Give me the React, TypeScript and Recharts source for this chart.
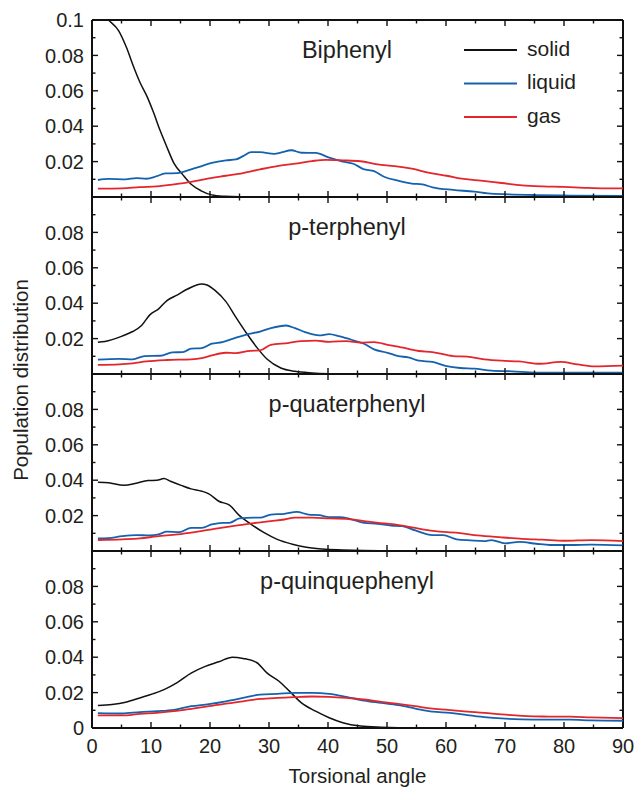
import React from 'react';
import { LineChart, Line, XAxis, YAxis, ReferenceLine, Legend } from 'recharts';

type Pt = [number, number];

// ---------- data ----------
const xTicks = [0, 5, 10, 15, 20, 25, 30, 35, 40, 45, 50, 55, 60, 65, 70, 75, 80, 85, 90];
const yTicks = [0, 0.01, 0.02, 0.03, 0.04, 0.05, 0.06, 0.07, 0.08, 0.09, 0.1];
const yLabelTicks: number[][] = [
  [0.02, 0.04, 0.06, 0.08, 0.1],
  [0.02, 0.04, 0.06, 0.08],
  [0.02, 0.04, 0.06, 0.08],
  [0, 0.02, 0.04, 0.06, 0.08],
];
const panelTitles = ['Biphenyl', 'p-terphenyl', 'p-quaterphenyl', 'p-quinquephenyl'];
const seriesNames = ['solid', 'liquid', 'gas'];
const seriesColors = ['#111111', '#1462ae', '#e3262c'];
const xAxisTitle = 'Torsional angle';
const yAxisTitle = 'Population distribution';

const biphenylSolid: Pt[] = [[1,0.107],[2.8,0.1],[4.5,0.094],[5.9,0.084],[7,0.074],[8.1,0.065],[9.3,0.057],[10.4,0.048],[11.5,0.038],[12.6,0.029],[13.9,0.019],[15.4,0.0125],[16.8,0.0072],[18.5,0.0035],[20.3,0.0012],[22.5,0.0004],[25,0.0001],[30,0],[45,0],[60,0],[75,0],[90,0]];
const biphenylLiquid: Pt[] = [[1,0.0096],[2.8,0.0102],[5.7,0.01],[7.5,0.0107],[9.2,0.0103],[11,0.0118],[12.4,0.0133],[14.5,0.0135],[16.8,0.0156],[18.6,0.0175],[20.3,0.0193],[22.7,0.0207],[24.4,0.0212],[25.6,0.0231],[27,0.0253],[28.5,0.0253],[30.9,0.0244],[32,0.0251],[33.8,0.0264],[35.5,0.025],[37.9,0.0249],[40.2,0.0222],[42.5,0.02],[44.3,0.0188],[46,0.0158],[47.8,0.0146],[49.6,0.0113],[51.9,0.0092],[54.2,0.0076],[56,0.0071],[57.7,0.0055],[61.2,0.004],[64.8,0.003],[67.1,0.002],[70.6,0.0015],[75.3,0.0011],[81.1,0.0008],[90,0.0006]];
const biphenylGas: Pt[] = [[1,0.0047],[5.1,0.0049],[8.1,0.0056],[11,0.006],[13.9,0.0071],[16.8,0.0085],[19.8,0.0105],[22.7,0.012],[25.6,0.0135],[28.5,0.0156],[31.4,0.0175],[34.4,0.0188],[37.3,0.0203],[39.6,0.021],[42.5,0.0207],[45.5,0.0202],[48.4,0.0184],[51.3,0.0175],[54.2,0.016],[57.2,0.0136],[60.1,0.012],[63,0.0102],[65.9,0.0092],[69.4,0.0079],[72.9,0.0066],[76.4,0.006],[80,0.0057],[83.5,0.0052],[87,0.0049],[90,0.0049]];

const terphenylSolid: Pt[] = [[1,0.018],[2.2,0.0184],[5.1,0.0214],[6.9,0.024],[8.4,0.0274],[9.8,0.0334],[11.3,0.0368],[12.7,0.0415],[14.5,0.0447],[16.2,0.048],[18.6,0.0509],[19.5,0.0503],[20.9,0.0471],[22.7,0.0409],[24.4,0.032],[26.2,0.023],[27.9,0.0152],[29.7,0.0083],[32,0.0034],[34.4,0.0015],[37.3,0.0006],[40.2,0.0002],[45,0],[60,0],[75,0],[90,0]];
const terphenylLiquid: Pt[] = [[1,0.0081],[4.6,0.0086],[6.9,0.0083],[8.9,0.0101],[11.6,0.0103],[13.6,0.0122],[15.4,0.0124],[16.8,0.0143],[18.6,0.0146],[20.3,0.0171],[22.1,0.018],[23.8,0.0199],[26.2,0.0223],[28.5,0.024],[30.3,0.0259],[32.9,0.0274],[34.4,0.0259],[36.1,0.0237],[38.5,0.0218],[40.2,0.0225],[42,0.0212],[44.3,0.019],[46.1,0.0171],[47.8,0.0139],[50.1,0.012],[51.9,0.0101],[53.6,0.0094],[55.4,0.0075],[57.7,0.0068],[60.1,0.0045],[62.4,0.0034],[64.8,0.003],[67.7,0.0019],[71.2,0.0015],[75.3,0.0008],[81.1,0.0008],[90,0.0008]];
const terphenylGas: Pt[] = [[1,0.0051],[4.6,0.0054],[6.9,0.006],[9.2,0.0071],[12.7,0.0079],[16.8,0.0083],[18.6,0.009],[20.3,0.0105],[22.7,0.012],[24.4,0.0118],[26.8,0.0131],[28.5,0.0133],[30.3,0.0165],[33.2,0.0175],[35.5,0.0186],[37.9,0.0188],[40.2,0.0182],[43.1,0.0186],[45.5,0.0177],[47.8,0.018],[50.1,0.0165],[53.1,0.0146],[55.4,0.013],[57.7,0.0124],[61.2,0.0101],[63.6,0.0098],[66.5,0.0083],[69.4,0.0075],[72.4,0.0071],[75.9,0.0058],[79.4,0.0068],[82.3,0.0054],[85.2,0.0043],[90,0.0047]];

const quaterphenylSolid: Pt[] = [[1,0.0388],[2.8,0.0385],[5.4,0.0371],[7.5,0.0383],[9.5,0.0398],[11,0.04],[12.2,0.0409],[13.3,0.0394],[15.1,0.0371],[16.8,0.0351],[18.6,0.0338],[19.8,0.0323],[21.5,0.0281],[23.3,0.0259],[25,0.02],[26.8,0.0155],[29.1,0.0105],[31.4,0.0066],[33.8,0.004],[36.1,0.0022],[39,0.0011],[42.5,0.0006],[46,0.0003],[50,0.0001],[55,0],[70,0],[90,0]];
const quaterphenylLiquid: Pt[] = [[1,0.0071],[2.8,0.0073],[5.1,0.0084],[7.5,0.009],[9.8,0.0088],[11.3,0.0094],[12.7,0.0109],[14.8,0.0107],[16.8,0.0131],[18.6,0.0131],[20.3,0.015],[22.1,0.0159],[23.3,0.0159],[25,0.0184],[27.4,0.0188],[28.5,0.0188],[30.3,0.0206],[32.6,0.021],[34.7,0.0221],[36.7,0.0206],[38.5,0.0203],[40.2,0.0191],[42,0.0191],[43.7,0.0182],[46.1,0.0159],[48.4,0.0154],[50.7,0.0144],[52.5,0.0141],[54.8,0.0116],[57.7,0.009],[59.5,0.009],[61.8,0.0066],[64.2,0.006],[66.5,0.0056],[67.7,0.0062],[70,0.0043],[72.4,0.0051],[75.3,0.0041],[77.6,0.0034],[81.1,0.0034],[84.6,0.0036],[90,0.0032]];
const quaterphenylGas: Pt[] = [[1,0.0062],[5.1,0.0066],[8.1,0.0071],[11,0.0083],[14.5,0.0094],[17.4,0.0107],[20.3,0.0122],[22.7,0.0135],[25,0.0146],[27.4,0.0158],[30.3,0.0169],[32.6,0.0178],[34.4,0.0188],[37.3,0.0188],[40.2,0.0184],[43.1,0.0182],[46.1,0.0169],[49.6,0.0156],[53.1,0.0141],[56,0.0122],[58.9,0.0109],[62.4,0.0101],[65.3,0.0088],[69.4,0.0077],[72.9,0.0069],[76.4,0.0064],[80,0.0058],[84.6,0.0062],[90,0.0056]];

const quinquephenylSolid: Pt[] = [[1,0.0127],[3.4,0.0133],[5.7,0.0146],[8.1,0.017],[10.4,0.0194],[12.2,0.0217],[14.5,0.0258],[16.8,0.031],[19.2,0.0348],[21.5,0.0374],[23.8,0.04],[25.6,0.0393],[27.9,0.037],[29.7,0.031],[31.7,0.0264],[33.5,0.0207],[35.5,0.0142],[37.9,0.0095],[40.2,0.0058],[42.5,0.003],[45.5,0.0011],[49,0.0004],[52,0.0001],[55,0],[70,0],[90,0]];
const quinquephenylLiquid: Pt[] = [[1,0.0084],[5.1,0.0082],[8.1,0.009],[11,0.0095],[13.9,0.0103],[16.8,0.0123],[19.8,0.0135],[22.7,0.0151],[25.6,0.017],[28.5,0.0189],[31.4,0.0193],[34.4,0.0198],[37.3,0.0198],[40.2,0.0193],[43.1,0.0176],[46.1,0.0155],[49,0.0142],[51.9,0.0129],[54.8,0.011],[57.7,0.0092],[60.7,0.0086],[63.6,0.0073],[66.5,0.0062],[69.4,0.0054],[72.9,0.0049],[76.4,0.0047],[81.1,0.0047],[84.6,0.0043],[90,0.0041]];
const quinquephenylGas: Pt[] = [[1,0.0071],[5.1,0.0071],[8.1,0.008],[11,0.0086],[13.9,0.0095],[16.8,0.0108],[19.8,0.0123],[22.7,0.0138],[25.6,0.0151],[28.5,0.0164],[31.4,0.017],[34.4,0.0174],[37.3,0.0178],[40.2,0.0176],[43.1,0.017],[46.1,0.0161],[49,0.0148],[51.9,0.0136],[54.8,0.0123],[57.7,0.011],[60.7,0.0101],[63.6,0.0093],[66.5,0.0086],[69.4,0.0077],[72.9,0.0069],[76.4,0.0065],[81.1,0.0064],[84.6,0.006],[90,0.0056]];

const panelSeries: Pt[][][] = [
  [biphenylSolid, biphenylLiquid, biphenylGas],
  [terphenylSolid, terphenylLiquid, terphenylGas],
  [quaterphenylSolid, quaterphenylLiquid, quaterphenylGas],
  [quinquephenylSolid, quinquephenylLiquid, quinquephenylGas],
];

// ---------- layout ----------
const W = 636;
const H = 787;
const PLOT_LEFT = 92;
const PLOT_RIGHT = 623;
const PLOT_W = PLOT_RIGHT - PLOT_LEFT;
const PANEL_H = 177;
const PANEL_TOPS = [20, 197, 374, 551];
const FONT = '"Liberation Sans", Arial, Helvetica, sans-serif';
const TEXT = '#231f20';
const AXIS = '#111111';

const makeYTick = (labels: number[]) => (props: any) => {
  const { x, y, payload } = props;
  const v = payload.value as number;
  const major = Math.round(v * 100) % 2 === 0;
  const len = major ? 6 : 3.5;
  const lab = labels.find((t) => Math.abs(t - v) < 1e-9);
  return (
    <g>
      <line x1={x} x2={x + len} y1={y} y2={y} stroke={AXIS} strokeWidth={1.4} />
      <line x1={x + PLOT_W} x2={x + PLOT_W - len} y1={y} y2={y} stroke={AXIS} strokeWidth={1.4} />
      {lab !== undefined && (
        <text x={x - 8} y={y} dy="0.36em" textAnchor="end" fontSize={20} fontFamily={FONT} fill={TEXT}>
          {String(lab)}
        </text>
      )}
    </g>
  );
};

const makeXTick = (showLabels: boolean) => (props: any) => {
  const { x, y, payload } = props;
  const v = payload.value as number;
  const major = v % 10 === 0;
  const len = major ? 6 : 3.5;
  return (
    <g>
      <line x1={x} x2={x} y1={y} y2={y - len} stroke={AXIS} strokeWidth={1.4} />
      <line x1={x} x2={x} y1={y - PANEL_H} y2={y - PANEL_H + len} stroke={AXIS} strokeWidth={1.4} />
      {showLabels && major && (
        <text x={x} y={y + 25} textAnchor="middle" fontSize={20} fontFamily={FONT} fill={TEXT}>
          {String(v)}
        </text>
      )}
    </g>
  );
};

const LegendBox = () => (
  <svg width={170} height={110} style={{ overflow: 'visible' }}>
    {seriesNames.map((n, i) => (
      <g key={n}>
        <line x1={9} x2={62} y1={25 + i * 33.5} y2={25 + i * 33.5} stroke={seriesColors[i]} strokeWidth={1.8} />
        <text x={72} y={30.5 + i * 33.5} fontSize={21} fontFamily={FONT} fill={TEXT}>
          {n}
        </text>
      </g>
    ))}
  </svg>
);

function Panel({ index }: { index: number }) {
  const mt = 15;
  const isLast = index === 3;
  const mb = isLast ? 60 : 15;
  const series = panelSeries[index];
  return (
    <div style={{ position: 'absolute', left: 0, top: PANEL_TOPS[index] - mt }}>
      <LineChart
        width={W}
        height={PANEL_H + mt + mb}
        margin={{ top: mt, right: W - PLOT_RIGHT, bottom: mb - 1, left: PLOT_LEFT - 1 }}
        style={{ overflow: 'visible' }}
      >
        <XAxis
          dataKey="a"
          type="number"
          domain={[0, 90]}
          ticks={xTicks}
          interval={0}
          height={1}
          tickLine={false}
          tickSize={0}
          tickMargin={0}
          allowDataOverflow
          axisLine={{ stroke: AXIS, strokeWidth: 2 }}
          tick={makeXTick(isLast)}
        />
        <YAxis
          type="number"
          domain={[0, 0.1]}
          ticks={yTicks}
          interval={0}
          width={1}
          tickLine={false}
          tickSize={0}
          tickMargin={0}
          allowDataOverflow
          axisLine={{ stroke: AXIS, strokeWidth: 2 }}
          tick={makeYTick(yLabelTicks[index])}
        />
        <ReferenceLine x={90} stroke={AXIS} strokeWidth={2} ifOverflow="visible" />
        <ReferenceLine y={0.1} stroke={AXIS} strokeWidth={2} ifOverflow="visible" />
        {series.map((pts, i) => (
          <Line
            key={seriesNames[i]}
            name={seriesNames[i]}
            data={pts.map(([a, v]) => ({ a, v }))}
            dataKey="v"
            type="monotone"
            stroke={seriesColors[i]}
            strokeWidth={i === 0 ? 1.5 : 1.8}
            dot={false}
            activeDot={false}
            isAnimationActive={false}
          />
        ))}
        {index === 0 && (
          <Legend
            layout="horizontal"
            verticalAlign="middle"
            align="center"
            wrapperStyle={{ left: 455, top: 20, width: 170, height: 110 }}
            content={() => <LegendBox />}
          />
        )}
      </LineChart>
    </div>
  );
}

export default function App() {
  return (
    <div style={{ position: 'absolute', left: 0, top: 0, width: W, height: H, background: '#fff', overflow: 'hidden' }}>
      {[0, 1, 2, 3].map((i) => (
        <Panel key={i} index={i} />
      ))}
      <svg width={W} height={H} style={{ position: 'absolute', left: 0, top: 0, pointerEvents: 'none' }}>
        {panelTitles.map((t, i) => (
          <text key={t} x={347} y={PANEL_TOPS[i] + 38} textAnchor="middle" fontSize={23.5} fontFamily={FONT} fill={TEXT}>
            {t}
          </text>
        ))}
        <text x={357.5} y={783} textAnchor="middle" fontSize={20.5} fontFamily={FONT} fill={TEXT}>
          {xAxisTitle}
        </text>
        <text transform="translate(28, 380) rotate(-90)" textAnchor="middle" fontSize={20.5} fontFamily={FONT} fill={TEXT}>
          {yAxisTitle}
        </text>
      </svg>
    </div>
  );
}
